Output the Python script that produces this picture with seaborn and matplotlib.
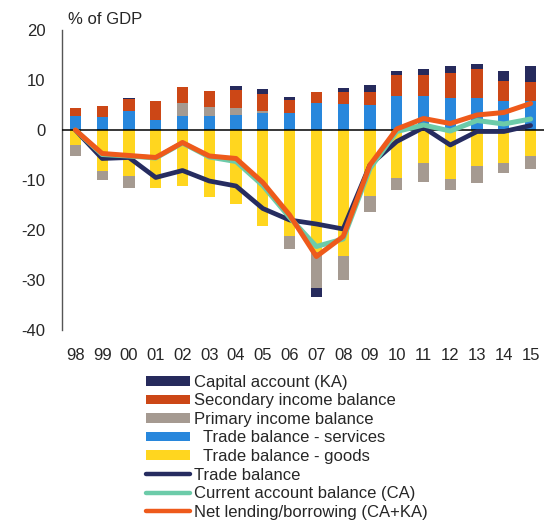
import numpy as np
import pandas as pd
from matplotlib import pyplot as plt
from matplotlib.lines import Line2D
import seaborn as sns

years = ['98', '99', '00', '01', '02', '03', '04', '05', '06', '07', '08',
         '09', '10', '11', '12', '13', '14', '15']

# bar components, % of GDP
goods = [-3.0, -8.1, -9.2, -11.5, -11.2, -13.3, -14.7, -19.1, -21.1, -24.3,
         -25.2, -13.1, -9.5, -6.6, -9.7, -7.1, -6.6, -5.1]
services = [2.9, 2.7, 3.9, 2.1, 2.9, 2.9, 3.1, 3.5, 3.5, 5.5, 5.3, 5.1, 6.9,
            6.9, 6.5, 6.5, 5.8, 5.8]
primary = [-2.2, -1.8, -2.3, 0.0, 2.6, 1.7, 1.3, 0.3, -2.7, -7.2, -4.7, -3.2,
           -2.5, -3.7, -2.2, -3.4, -2.0, -2.7]
secondary = [1.6, 2.2, 2.3, 3.8, 3.2, 3.3, 3.7, 3.5, 2.5, 2.1, 2.4, 2.6, 4.1,
             4.2, 5.0, 5.7, 4.0, 3.9]
capital = [0.0, 0.0, 0.2, 0.0, 0.0, 0.0, 0.8, 1.0, 0.7, -1.8, 0.8, 1.4, 0.8,
           1.2, 1.4, 1.1, 2.1, 3.2]

# lines
trade_balance = [0.0, -5.7, -5.5, -9.5, -8.1, -10.2, -11.2, -15.7, -18.0,
                 -18.8, -19.8, -7.0, -2.3, 0.5, -3.0, -0.3, -0.3, 0.9]
current_account = [0.0, -4.9, -5.2, -5.6, -2.6, -5.4, -6.3, -11.1, -17.5,
                   -23.3, -21.8, -7.7, -0.3, 1.0, -0.2, 1.9, 1.2, 2.2]
net_lending = [0.0, -4.7, -5.1, -5.5, -2.5, -5.2, -5.7, -10.5, -17.0, -25.3,
               -21.3, -7.0, 0.2, 2.3, 1.3, 3.0, 3.5, 5.3]

sns.set_style("white")
plt.rcParams['font.family'] = ['Liberation Sans', 'DejaVu Sans']
plt.rcParams['axes.unicode_minus'] = False

c_cap = '#262a5c'
c_sec = '#cc4716'
c_pri = '#a59a91'
c_srv = '#2887dc'
c_goods = '#ffd61f'
c_tb = '#262c60'
c_ca = '#6ccba9'
c_nl = '#ee5a1b'

fig = plt.figure(figsize=(5.44, 5.21), dpi=100)
ax = fig.add_axes([62 / 544, 1 - 330 / 521, 1 - 62 / 544, 300 / 521])

x = np.arange(len(years))
w = 0.42

# stack positives upward and negatives downward
pos = np.zeros(len(years))
neg = np.zeros(len(years))
handles = {}
for name, vals, col in [('goods', goods, c_goods), ('services', services, c_srv),
                        ('primary', primary, c_pri), ('secondary', secondary, c_sec),
                        ('capital', capital, c_cap)]:
    v = np.array(vals)
    bottom = np.where(v >= 0, pos, neg)
    b = ax.bar(x, v, w, bottom=bottom, color=col, edgecolor='none', zorder=2)
    handles[name] = b
    pos = pos + np.clip(v, 0, None)
    neg = neg + np.clip(v, None, 0)

ax.axhline(0, color='black', lw=1.1, zorder=3)

df = pd.DataFrame({'x': x, 'tb': trade_balance, 'ca': current_account,
                   'nl': net_lending})
sns.lineplot(data=df, x='x', y='tb', ax=ax, color=c_tb, lw=3.4,
             solid_capstyle='round', zorder=4)
sns.lineplot(data=df, x='x', y='ca', ax=ax, color=c_ca, lw=3.6,
             solid_capstyle='round', zorder=5)
sns.lineplot(data=df, x='x', y='nl', ax=ax, color=c_nl, lw=3.6,
             solid_capstyle='round', zorder=6)

ax.set_xlim(-0.5, 17.5)
ax.set_ylim(-40, 20)
ax.set_yticks([20, 10, 0, -10, -20, -30, -40])
ax.set_xticks(x)
ax.set_xticklabels(years)
ax.set_xlabel('')
ax.set_ylabel('')
ax.tick_params(axis='x', length=0, pad=13, labelsize=12)
ax.tick_params(axis='y', length=0, pad=12, labelsize=12)
for s in ['top', 'right', 'bottom']:
    ax.spines[s].set_visible(False)
ax.spines['left'].set_color('#555555')
ax.spines['left'].set_linewidth(1.0)

fig.text(68 / 544, 1 - 20 / 521, '% of GDP', fontsize=12, va='center', ha='left')

lh = [Line2D([], [], color=c, lw=3.2, solid_capstyle='round') for c in (c_tb, c_ca, c_nl)]
leg_handles = [handles['capital'], handles['secondary'], handles['primary'],
               handles['services'], handles['goods']] + lh
leg_labels = ['Capital account (KA)', 'Secondary income balance',
              'Primary income balance', '  Trade balance - services',
              '  Trade balance - goods', 'Trade balance',
              'Current account balance (CA)', 'Net lending/borrowing (CA+KA)']
fig.legend(leg_handles, leg_labels, loc='upper left',
           bbox_to_anchor=(146 / 544, 1 - 375 / 521), frameon=False,
           fontsize=12, handlelength=2.65, handleheight=0.5,
           handletextpad=0.2, labelspacing=0.21, borderpad=0, borderaxespad=0)

fig.savefig('out.png', dpi=100)
